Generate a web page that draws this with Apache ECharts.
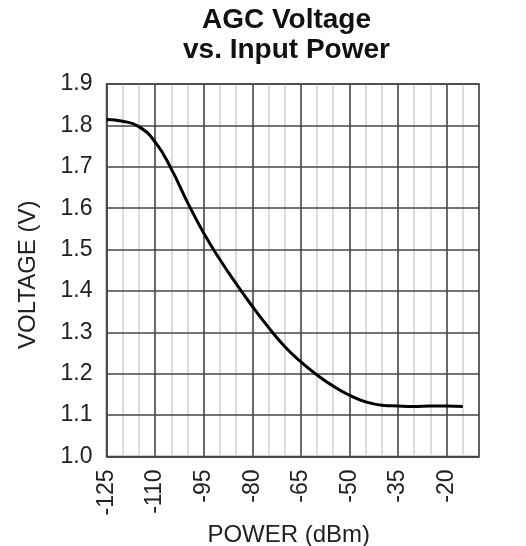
<!DOCTYPE html>
<html>
<head>
<meta charset="utf-8">
<script src="https://cdn.jsdelivr.net/npm/echarts@6/dist/echarts.min.js"></script>
<style>
html,body{margin:0;padding:0;background:#fff;}
#chart{width:526px;height:546px;}
</style>
</head>
<body>
<div id="chart"></div>
<script>
const titleLines = ["AGC Voltage", "vs. Input Power"];
const xAxisName = "POWER (dBm)";
const yAxisName = "VOLTAGE (V)";
const powerDbm = [-125, -120, -115, -110, -105, -100, -95, -90, -85, -80, -75, -70, -65, -60, -55, -50, -45, -40, -35, -30, -25, -20, -15];
const voltage  = [1.814, 1.810, 1.797, 1.760, 1.695, 1.614, 1.540, 1.476, 1.418, 1.363, 1.312, 1.266, 1.229, 1.197, 1.170, 1.148, 1.132, 1.124, 1.122, 1.121, 1.122, 1.122, 1.121];
const xMin = -125, xMax = -10, xMajor = 15, xMinor = 5;
const yMin = 1.0, yMax = 1.9, yStep = 0.1;

const chart = echarts.init(document.getElementById('chart'));
const font = '"Liberation Sans", Arial, Helvetica, sans-serif';
chart.setOption({
  animation: false,
  backgroundColor: '#fff',
  title: {
    text: titleLines.join('\n'),
    left: 286.5, top: 5, textAlign: 'center', padding: 0,
    textStyle: { fontFamily: font, fontWeight: 'bold', fontSize: 28, lineHeight: 30, color: '#111' }
  },
  grid: { left: 106.5, right: 47, top: 84, bottom: 89.5, show: true, borderColor: '#444', borderWidth: 1.5,
    backgroundColor: 'transparent', containLabel: false, outerBoundsMode: 'none' },
  xAxis: [
    {
      type: 'value', min: xMin, max: xMax, interval: xMajor, z: 3,
      name: xAxisName, nameLocation: 'middle', nameGap: 57,
      nameTextStyle: { fontFamily: font, fontSize: 24, color: '#222', padding: [0, 8, 0, 0] },
      axisLine: { show: true, lineStyle: { color: '#444', width: 1.5 } },
      axisTick: { show: false },
      axisLabel: { rotate: 90, margin: 13, fontFamily: font, fontSize: 23, color: '#222', showMaxLabel: false,
        formatter: v => (v === xMax ? '' : String(v)) },
      splitLine: { show: true, lineStyle: { color: '#444', width: 1.5 } }
    },
    {
      type: 'value', min: xMin, max: xMax, interval: xMinor, z: 1,
      axisLine: { show: false }, axisTick: { show: false }, axisLabel: { show: false },
      splitLine: { show: true, lineStyle: { color: '#d0d0d0', width: 1.5 } }
    }
  ],
  yAxis: {
    type: 'value', min: yMin, max: yMax, interval: yStep, z: 3,
    name: yAxisName, nameLocation: 'middle', nameGap: 66,
    nameTextStyle: { fontFamily: font, fontSize: 24, color: '#222', padding: [0, 9, 0, 0] },
    axisLine: { show: true, lineStyle: { color: '#444', width: 1.5 } },
    axisTick: { show: false },
    axisLabel: { margin: 14, fontFamily: font, fontSize: 23, color: '#222', formatter: v => v.toFixed(1) },
    splitLine: { show: true, lineStyle: { color: '#444', width: 1.5 } }
  },
  series: [{
    type: 'line', xAxisIndex: 0, smooth: 0.5, symbol: 'none', z: 5,
    lineStyle: { color: '#000', width: 3 },
    data: powerDbm.map((p, i) => [p, voltage[i]])
  }]
});
</script>
</body>
</html>
